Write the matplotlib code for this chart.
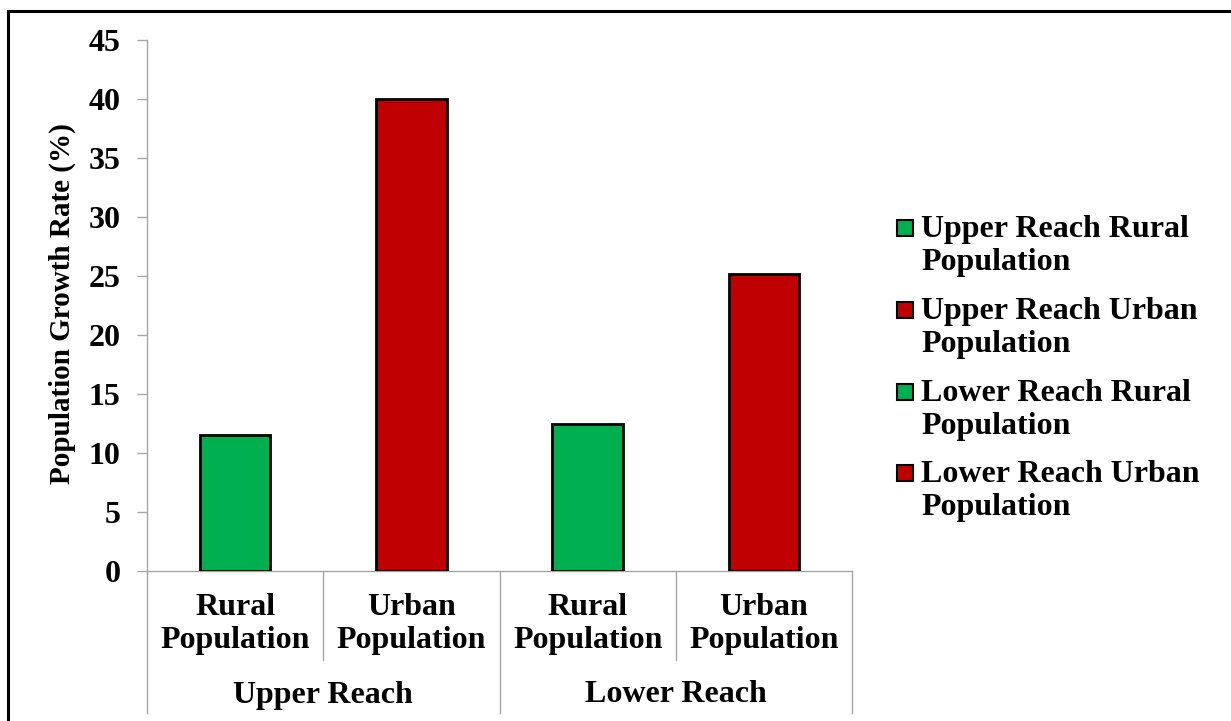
import matplotlib.pyplot as plt
from matplotlib.patches import Rectangle

# data
categories = ['Rural\nPopulation', 'Urban\nPopulation', 'Rural\nPopulation', 'Urban\nPopulation']
groups = ['Upper Reach', 'Lower Reach']
values = [11.5, 40.0, 12.5, 25.2]
series_names = ['Upper Reach Rural\nPopulation', 'Upper Reach Urban\nPopulation',
                'Lower Reach Rural\nPopulation', 'Lower Reach Urban\nPopulation']
colors = ['#00B050', '#C00000', '#00B050', '#C00000']
yticks = [0, 5, 10, 15, 20, 25, 30, 35, 40, 45]

plt.rcParams['font.family'] = 'Liberation Serif'
plt.rcParams['font.weight'] = 'bold'

W, H = 1231, 721
fig = plt.figure(figsize=(W / 100, H / 100), dpi=100)

# axes placed in pixel terms
x0, x1, y0, y1 = 147, 852, 571, 40
ax = fig.add_axes([x0 / W, 1 - y0 / H, (x1 - x0) / W, (y0 - y1) / H])

xpos = list(range(len(values)))
ax.bar(xpos, values, width=0.4, color=colors, edgecolor='black', linewidth=2, zorder=3)

ax.set_xlim(-0.5, len(values) - 0.5)
ax.set_ylim(0, 45)
ax.set_yticks(yticks)
ax.tick_params(axis='y', labelsize=23, length=7.2, width=1, color='#A6A6A6', pad=12)
ax.set_xticks([])
for s in ['top', 'right']:
    ax.spines[s].set_visible(False)
for s in ['left', 'bottom']:
    ax.spines[s].set_color('#A6A6A6')
    ax.spines[s].set_linewidth(1)

ax.set_ylabel('Population Growth Rate (%)', fontsize=21, fontweight='bold')
ax.yaxis.set_label_coords(-0.1, 0.503)

# two-level category axis
tr = ax.get_xaxis_transform()
inner_bottom = (y0 - 660) / (y0 - y1)
outer_bottom = (y0 - 713) / (y0 - y1)
for i, lab in enumerate(categories):
    ax.text(i, (y0 - 624) / (y0 - y1), lab, transform=tr, ha='center', va='center',
            fontsize=23, fontweight='bold', linespacing=1.2)
for b in [0.5, 2.5]:
    ax.plot([b, b], [0, inner_bottom], transform=tr, color='#A6A6A6', lw=1, clip_on=False)
for b in [-0.5, 1.5, 3.5]:
    ax.plot([b, b], [0, outer_bottom], transform=tr, color='#A6A6A6', lw=1, clip_on=False)
for g, lab in enumerate(groups):
    ax.text(2 * g + 0.5, (y0 - 695) / (y0 - y1), lab, transform=tr, ha='center', va='center',
            fontsize=23, fontweight='bold')

# legend
entry_y = [228, 310, 392, 473]
for yy, name, c in zip(entry_y, series_names, colors):
    fig.patches.append(Rectangle(((897) / W, 1 - (yy + 8) / H), 16 / W, 16 / H,
                                 transform=fig.transFigure, facecolor=c,
                                 edgecolor='black', linewidth=1.5))
    fig.text(921 / W, 1 - (yy - 13) / H, name, ha='left', va='top',
             fontsize=23, fontweight='bold', linespacing=1.2)

# outer chart border
fig.patches.append(Rectangle((8 / W, -0.05), 1.1, 1 - 11 / H + 0.05,
                             transform=fig.transFigure, fill=False,
                             edgecolor='black', linewidth=2.2))

fig.savefig('out.png', dpi=100)
